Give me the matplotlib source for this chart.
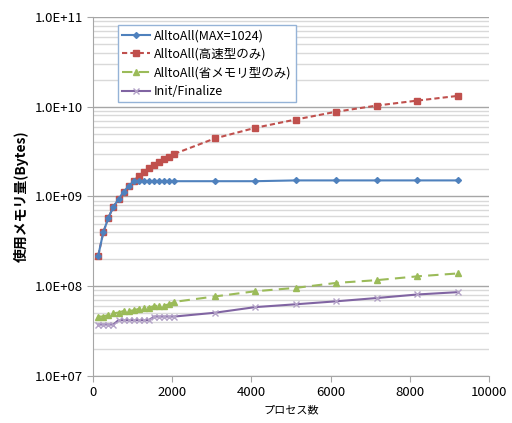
import math
import matplotlib
matplotlib.use('Agg')
import matplotlib.pyplot as plt
from matplotlib.ticker import LogLocator, FuncFormatter, MultipleLocator

plt.rcParams['font.family'] = ['Noto Sans CJK JP', 'DejaVu Sans']

procs = [128, 256, 384, 512, 640, 768, 896, 1024, 1152, 1280, 1408, 1536,
         1664, 1792, 1920, 2048, 3072, 4096, 5120, 6144, 7168, 8192, 9216]

alltoall_max = [2.2e8, 4.0e8, 5.8e8, 7.7e8, 9.3e8, 1.13e9, 1.30e9, 1.48e9,
                1.48e9, 1.48e9, 1.48e9, 1.48e9, 1.48e9, 1.48e9, 1.48e9, 1.48e9,
                1.48e9, 1.48e9, 1.51e9, 1.51e9, 1.51e9, 1.51e9, 1.51e9]
alltoall_fast = [2.2e8, 4.0e8, 5.8e8, 7.7e8, 9.3e8, 1.13e9, 1.30e9, 1.50e9,
                 1.68e9, 1.89e9, 2.06e9, 2.22e9, 2.40e9, 2.60e9, 2.78e9, 2.98e9,
                 4.43e9, 5.82e9, 7.2e9, 8.8e9, 1.03e10, 1.17e10, 1.32e10]
alltoall_save = [4.6e7, 4.6e7, 4.8e7, 5.0e7, 5.1e7, 5.3e7, 5.3e7, 5.4e7,
                 5.6e7, 5.7e7, 5.8e7, 6.0e7, 6.1e7, 6.1e7, 6.3e7, 6.7e7,
                 7.7e7, 8.8e7, 9.6e7, 1.09e8, 1.17e8, 1.29e8, 1.39e8]
init_fin = [3.75e7, 3.75e7, 3.75e7, 3.75e7, 4.2e7, 4.2e7, 4.2e7, 4.2e7,
            4.2e7, 4.2e7, 4.2e7, 4.6e7, 4.6e7, 4.6e7, 4.6e7, 4.6e7,
            5.07e7, 5.86e7, 6.3e7, 6.8e7, 7.4e7, 8.1e7, 8.6e7]

labels = ['AlltoAll(MAX=1024)', 'AlltoAll(高速型のみ)', 'AlltoAll(省メモリ型のみ)', 'Init/Finalize']

fig = plt.figure(figsize=(5.12, 4.23), dpi=100)
ax = fig.add_axes([0.182, 0.111, 0.773, 0.849])

ax.plot(procs, alltoall_max, color='#4F81BD', lw=1.5, marker='D', ms=3, label=labels[0], zorder=4)
ax.plot(procs, alltoall_fast, color='#C0504D', lw=1.5, ls=(0, (2.5, 1.5)), marker='s', ms=4.5, label=labels[1], zorder=3)
ax.plot(procs, alltoall_save, color='#9BBB59', lw=1.5, ls=(0, (5, 3)), marker='^', ms=5, label=labels[2], zorder=3)
ax.plot(procs, init_fin, color='#8064A2', lw=1.5, marker='x', ms=4.5, mec='#B3A2C7', mew=1, label=labels[3], zorder=3)

ax.set_yscale('log')
ax.set_ylim(1e7, 1e11)
ax.set_xlim(0, 10000)
ax.xaxis.set_major_locator(MultipleLocator(2000))
ax.yaxis.set_major_locator(LogLocator(base=10, numticks=10))
ax.yaxis.set_minor_locator(LogLocator(base=10, subs=range(2, 10), numticks=50))
ax.yaxis.set_major_formatter(FuncFormatter(lambda v, p: '1.0E+%02d' % round(math.log10(v))))
ax.yaxis.set_minor_formatter(FuncFormatter(lambda v, p: ''))

ax.grid(True, axis='y', which='major', color='#A6A6A6', lw=1)
ax.grid(True, axis='y', which='minor', color='#D9D9D9', lw=1)
ax.set_axisbelow(True)

for s in ['top', 'right']:
    ax.spines[s].set_visible(False)
for s in ['left', 'bottom']:
    ax.spines[s].set_color('#A6A6A6')
ax.tick_params(axis='both', which='major', color='#A6A6A6', length=4, labelsize=9.5, colors='#A6A6A6', labelcolor='black')
ax.tick_params(axis='y', which='minor', length=0)

ax.set_xlabel('プロセス数', fontsize=8)
ax.set_ylabel('使用メモリ量(Bytes)', fontsize=10, fontweight='bold')

leg = ax.legend(loc='upper left', bbox_to_anchor=(0.063, 0.978), fontsize=9,
                frameon=True, fancybox=False, framealpha=1, edgecolor='#95B3D7',
                handlelength=2.2, borderaxespad=0, labelspacing=0.45, borderpad=0.35,
                handletextpad=0.3)
leg.get_frame().set_linewidth(1)

fig.savefig('out.png', dpi=100)
